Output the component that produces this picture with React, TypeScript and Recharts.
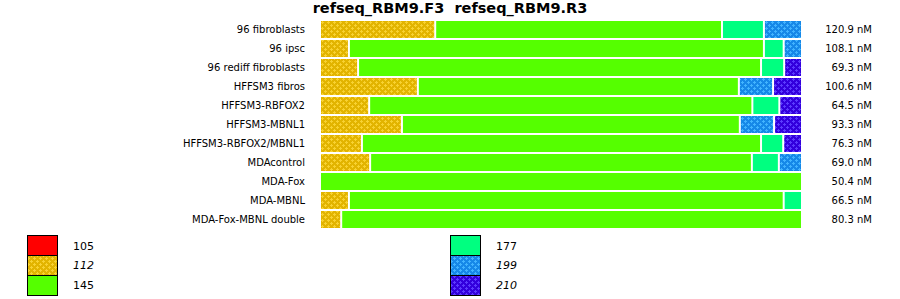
import { BarChart, Bar, XAxis, YAxis } from "recharts";

// samples, top to bottom
const samples = [
  "96 fibroblasts",
  "96 ipsc",
  "96 rediff fibroblasts",
  "HFFSM3 fibros",
  "HFFSM3-RBFOX2",
  "HFFSM3-MBNL1",
  "HFFSM3-RBFOX2/MBNL1",
  "MDAcontrol",
  "MDA-Fox",
  "MDA-MBNL",
  "MDA-Fox-MBNL double",
];

const totals = [
  "120.9 nM",
  "108.1 nM",
  "69.3 nM",
  "100.6 nM",
  "64.5 nM",
  "93.3 nM",
  "76.3 nM",
  "69.0 nM",
  "50.4 nM",
  "66.5 nM",
  "80.3 nM",
];

// product sizes, in stacking order
const sizes = ["105", "112", "145", "177", "199", "210"];

// share of each product per sample (%)
const s105 = [0, 0, 0, 0, 0, 0, 0, 0, 0, 0, 0];
const s112 = [23.9, 6.0, 7.9, 20.3, 10.2, 17.0, 8.7, 10.4, 0, 6.0, 4.4];
const s145 = [59.5, 86.1, 83.6, 66.6, 79.5, 70.1, 82.8, 79.2, 100, 90.2, 95.6];
const s177 = [8.7, 4.1, 4.8, 0, 5.6, 0, 4.6, 5.6, 0, 3.8, 0];
const s199 = [7.9, 3.8, 0, 7.1, 0, 7.1, 0, 4.8, 0, 0, 0];
const s210 = [0, 0, 3.7, 6.0, 4.7, 5.8, 3.9, 0, 0, 0, 0];

const shares = [s105, s112, s145, s177, s199, s210];

const data = samples.map((name, i) => {
  const row: Record<string, string | number> = { name, total: totals[i] };
  sizes.forEach((k, j) => (row[k] = shares[j][i]));
  return row;
});

const fills: Record<string, string> = {
  "105": "#ff0000",
  "112": "url(#dots112)",
  "145": "#55ff00",
  "177": "#00ff80",
  "199": "url(#dots199)",
  "210": "url(#dots210)",
};
const patterned = new Set(["112", "199", "210"]);

const FONT = "'DejaVu Sans', sans-serif";

function Dots({ id, base, dot }: { id: string; base: string; dot: string }) {
  return (
    <pattern id={id} width={6} height={6} patternUnits="userSpaceOnUse">
      <rect width={6} height={6} fill={base} />
      <rect x={0} y={1} width={3} height={1} fill={dot} />
      <rect x={1} y={0} width={1} height={3} fill={dot} />
      <rect x={3} y={4} width={3} height={1} fill={dot} />
      <rect x={4} y={3} width={1} height={3} fill={dot} />
    </pattern>
  );
}

function Patterns() {
  return (
    <svg width={0} height={0} style={{ position: "absolute" }}>
      <defs>
        <Dots id="dots112" base="#e2b400" dot="#f8d232" />
        <Dots id="dots199" base="#1688e8" dot="#42b4ff" />
        <Dots id="dots210" base="#3300dd" dot="#5c3cff" />
      </defs>
    </svg>
  );
}

// segments leave a 2px white gap between neighbours
function Segment(props: any) {
  const { x, y, width, height, fill } = props;
  if (!width || width <= 2) return null;
  return <rect x={x + 1} y={y} width={width - 2} height={height} fill={fill} />;
}

function TotalTick(props: any) {
  const { x, y, payload } = props;
  return (
    <text x={x + 64} y={y} dy="0.355em" textAnchor="end" fontSize={10} fill="#000" fontFamily={FONT}>
      {payload.value}
    </text>
  );
}

function LegendBlock() {
  const cols = [sizes.slice(0, 3), sizes.slice(3)];
  const colX = [27, 450];
  return (
    <svg width={900} height={70} style={{ position: "absolute", left: 0, top: 230 }}>
      {cols.map((col, c) =>
        col.map((k, r) => (
          <g key={k}>
            <rect
              x={colX[c] + 0.5}
              y={5.5 + r * 20}
              width={30}
              height={20}
              fill={fills[k]}
              stroke="#000"
              strokeWidth={1}
            />
            <text
              x={colX[c] + 46}
              y={16 + r * 19.5}
              dy="0.355em"
              fontSize={11}
              fontFamily={FONT}
              fontStyle={patterned.has(k) ? "italic" : "normal"}
              fill="#000"
            >
              {k}
            </text>
          </g>
        ))
      )}
    </svg>
  );
}

export default function App() {
  return (
    <div style={{ position: "absolute", left: 0, top: 0, width: 900, height: 299, background: "#fff" }}>
      <Patterns />
      <div
        style={{
          position: "absolute",
          top: 0,
          left: 0,
          width: 900,
          textAlign: "center",
          fontFamily: FONT,
          fontWeight: "bold",
          fontSize: 14.5,
          lineHeight: "17px",
          whiteSpace: "pre",
        }}
      >
        {"refseq_RBM9.F3  refseq_RBM9.R3"}
      </div>
      <BarChart
        width={900}
        height={299}
        data={data}
        layout="vertical"
        barCategoryGap={1}
        margin={{ top: 20, right: 0, bottom: 70, left: 0 }}
        style={{ position: "absolute", left: 0, top: 0 }}
      >
        <XAxis type="number" domain={[0, 100]} hide />
        <YAxis
          yAxisId="left"
          type="category"
          dataKey="name"
          width={320}
          axisLine={false}
          tickLine={false}
          tickMargin={9}
          interval={0}
          tick={{ fontSize: 10, fill: "#000", fontFamily: FONT }}
        />
        <YAxis
          yAxisId="right"
          orientation="right"
          type="category"
          dataKey="total"
          width={98}
          axisLine={false}
          tickLine={false}
          tickMargin={0}
          interval={0}
          tick={<TotalTick />}
        />
        {sizes.map((k) => (
          <Bar
            key={k}
            yAxisId="left"
            dataKey={k}
            stackId="a"
            fill={fills[k]}
            shape={<Segment />}
            isAnimationActive={false}
          />
        ))}
      </BarChart>
      <LegendBlock />
    </div>
  );
}
